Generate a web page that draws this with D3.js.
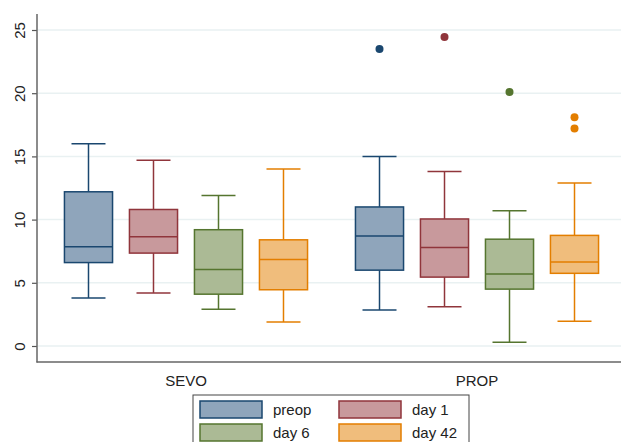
<!DOCTYPE html>
<html lang="en">
<head>
<meta charset="UTF-8">
<title>Box plot SEVO / PROP</title>
<script src="https://cdn.jsdelivr.net/npm/d3@7"></script>
<style>
  body { margin: 0; background: #fff; }
  text { font-family: "Liberation Sans", Arial, sans-serif; }
</style>
</head>
<body>
<script>
// groups and series
const groups = ["SEVO", "PROP"];
const series = ["preop", "day 1", "day 6", "day 42"];
const yTicks = [0, 5, 10, 15, 20, 25];

// box stats: [lower whisker, Q1, median, Q3, upper whisker]
const sevoStats = [
  [3.8, 6.6, 7.85, 12.2, 16.0],
  [4.2, 7.35, 8.65, 10.8, 14.7],
  [2.9, 4.1, 6.05, 9.2, 11.9],
  [1.9, 4.45, 6.85, 8.4, 14.0]
];
const propStats = [
  [2.85, 6.0, 8.7, 11.0, 15.0],
  [3.1, 5.45, 7.8, 10.05, 13.8],
  [0.3, 4.5, 5.7, 8.45, 10.7],
  [1.95, 5.75, 6.65, 8.75, 12.9]
];
const sevoOutliers = [[], [], [], []];
const propOutliers = [[23.5], [24.45], [20.1], [18.1, 17.2]];

const strokes = ["#1a476f", "#90353b", "#55752f", "#e37e00"];
const fills = ["#8fa5bb", "#c8999c", "#abba95", "#f0bd7c"];

const W = 621, H = 442;
const svg = d3.select("body").append("svg").attr("width", W).attr("height", H);

const y = d3.scaleLinear().domain([0, 25]).range([346, 30]);
const xGroup = d3.scalePoint().domain(groups).range([37, 626]).padding(0.512);
const xSeries = d3.scaleBand().domain(series).range([-130, 130])
  .paddingInner(0.26).paddingOuter(0.13);

// gridlines
svg.append("g").selectAll("line").data(yTicks).enter().append("line")
  .attr("x1", 38).attr("x2", W)
  .attr("y1", d => y(d)).attr("y2", d => y(d))
  .attr("stroke", "#e9f1f2").attr("stroke-width", 1.5);

// boxes
const rows = [];
groups.forEach((g, gi) => {
  const stats = gi === 0 ? sevoStats : propStats;
  const outs = gi === 0 ? sevoOutliers : propOutliers;
  series.forEach((s, si) => {
    rows.push({ g: g, s: s, i: si, st: stats[si], out: outs[si] });
  });
});

const bw = xSeries.bandwidth();
const capW = 34;
const boxes = svg.append("g").selectAll("g").data(rows).enter().append("g")
  .attr("transform", d => "translate(" + (xGroup(d.g) + xSeries(d.s) + bw / 2) + ",0)");

boxes.append("line").attr("x1", 0).attr("x2", 0)
  .attr("y1", d => y(d.st[0])).attr("y2", d => y(d.st[1]))
  .attr("stroke", d => strokes[d.i]).attr("stroke-width", 1.5);
boxes.append("line").attr("x1", 0).attr("x2", 0)
  .attr("y1", d => y(d.st[3])).attr("y2", d => y(d.st[4]))
  .attr("stroke", d => strokes[d.i]).attr("stroke-width", 1.5);
boxes.append("line").attr("x1", -capW / 2).attr("x2", capW / 2)
  .attr("y1", d => y(d.st[0])).attr("y2", d => y(d.st[0]))
  .attr("stroke", d => strokes[d.i]).attr("stroke-width", 1.5);
boxes.append("line").attr("x1", -capW / 2).attr("x2", capW / 2)
  .attr("y1", d => y(d.st[4])).attr("y2", d => y(d.st[4]))
  .attr("stroke", d => strokes[d.i]).attr("stroke-width", 1.5);
boxes.append("rect")
  .attr("x", -bw / 2).attr("width", bw)
  .attr("y", d => y(d.st[3])).attr("height", d => y(d.st[1]) - y(d.st[3]))
  .attr("fill", d => fills[d.i]).attr("stroke", d => strokes[d.i]).attr("stroke-width", 1.5);
boxes.append("line").attr("x1", -bw / 2).attr("x2", bw / 2)
  .attr("y1", d => y(d.st[2])).attr("y2", d => y(d.st[2]))
  .attr("stroke", d => strokes[d.i]).attr("stroke-width", 1.5);
boxes.selectAll("circle").data(d => d.out.map(v => ({ v: v, i: d.i }))).enter().append("circle")
  .attr("cx", 0).attr("cy", d => y(d.v)).attr("r", 4)
  .attr("fill", d => strokes[d.i]);

// y axis
const yAxis = svg.append("g").attr("transform", "translate(37,0)")
  .call(d3.axisLeft(y).tickValues(yTicks).tickSize(5));
yAxis.select(".domain").remove();
yAxis.selectAll(".tick line").attr("stroke", "#555").attr("stroke-width", 1.2);
yAxis.selectAll(".tick text")
  .attr("transform", "rotate(-90)")
  .attr("x", 0).attr("y", -12).attr("dy", 0)
  .attr("text-anchor", "middle")
  .style("font-size", "15px").attr("fill", "#222");
svg.append("line").attr("x1", 37).attr("x2", 37).attr("y1", 14).attr("y2", 362.5)
  .attr("stroke", "#666").attr("stroke-width", 1.5);

// x axis
svg.append("line").attr("x1", 36.5).attr("x2", W).attr("y1", 362).attr("y2", 362)
  .attr("stroke", "#666").attr("stroke-width", 1.5);
svg.append("g").selectAll("text").data(groups).enter().append("text")
  .attr("x", d => xGroup(d)).attr("y", 386)
  .attr("text-anchor", "middle").style("font-size", "15px").attr("fill", "#222")
  .text(d => d);

// legend
const leg = svg.append("g").attr("transform", "translate(193,395)");
leg.append("rect").attr("x", 0).attr("y", 0).attr("width", 276).attr("height", 60)
  .attr("fill", "#fff").attr("stroke", "#444").attr("stroke-width", 1);
const items = leg.selectAll("g.item").data(series).enter().append("g")
  .attr("transform", (d, i) => "translate(" + (7 + (i % 2) * 139) + "," + (6 + Math.floor(i / 2) * 23) + ")");
items.append("rect").attr("width", 62).attr("height", 17)
  .attr("fill", (d, i) => fills[i]).attr("stroke", (d, i) => strokes[i]).attr("stroke-width", 1.5);
items.append("text").attr("x", 73).attr("y", 14)
  .style("font-size", "15px").attr("fill", "#222").text(d => d);
</script>
</body>
</html>
